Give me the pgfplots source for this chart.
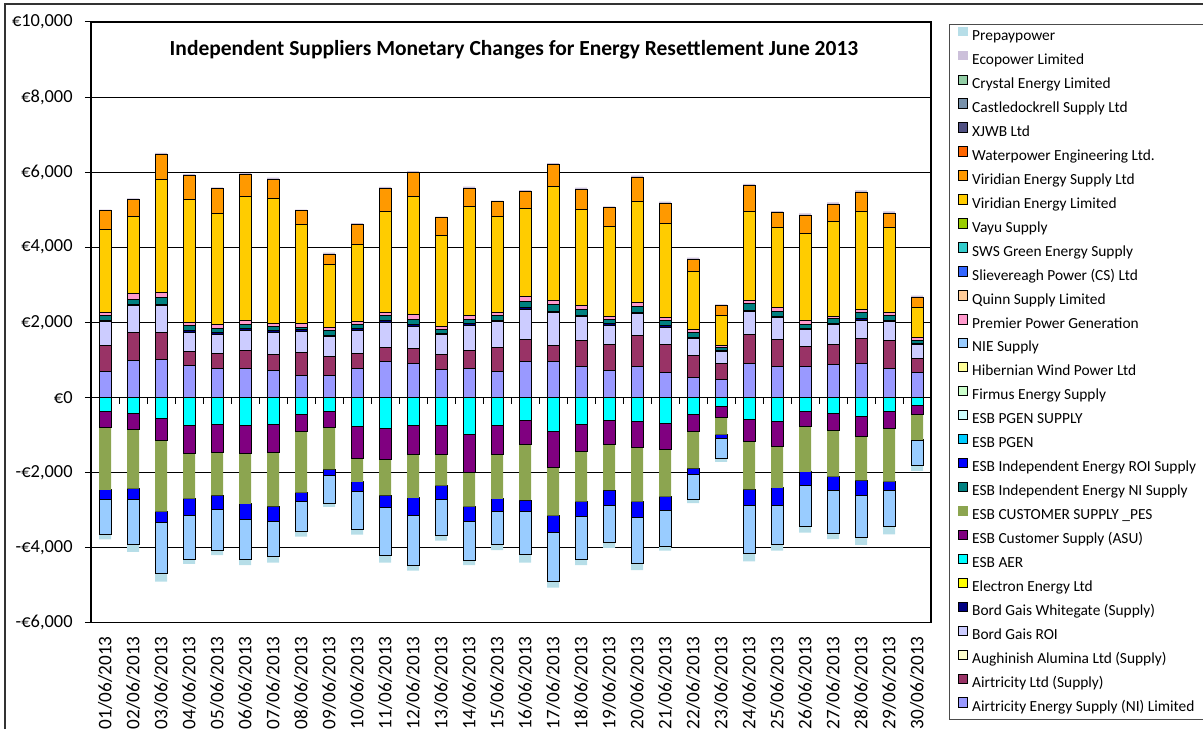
\documentclass[border=0pt]{standalone}
\usepackage{pgfplots}
\pgfplotsset{compat=1.18}
\usepackage{pgfplotstable}
\usepackage{fontspec}
\setmainfont{Carlito}

% series colours (Excel palette)
\definecolor{cAirNI}{HTML}{9999FF}
\definecolor{cAirLtd}{HTML}{993366}
\definecolor{cAugh}{HTML}{FFFFCC}
\definecolor{cBGROI}{HTML}{CCCCFF}
\definecolor{cBGW}{HTML}{000080}
\definecolor{cElectron}{HTML}{FFFF00}
\definecolor{cAER}{HTML}{00FFFF}
\definecolor{cASU}{HTML}{800080}
\definecolor{cPES}{HTML}{8CA550}
\definecolor{cIndNI}{HTML}{008080}
\definecolor{cIndROI}{HTML}{0000FF}
\definecolor{cPGEN}{HTML}{00CCFF}
\definecolor{cPGENS}{HTML}{CCFFFF}
\definecolor{cFirmus}{HTML}{CCFFCC}
\definecolor{cHib}{HTML}{FFFF99}
\definecolor{cNIE}{HTML}{99CCFF}
\definecolor{cPremier}{HTML}{FF99CC}
\definecolor{cQuinn}{HTML}{FFCC99}
\definecolor{cSliev}{HTML}{3366FF}
\definecolor{cSWS}{HTML}{33CCCC}
\definecolor{cVayu}{HTML}{99CC00}
\definecolor{cVirL}{HTML}{FFCC00}
\definecolor{cVirS}{HTML}{FF9900}
\definecolor{cWater}{HTML}{FF6600}
\definecolor{cXJWB}{HTML}{505082}
\definecolor{cCastle}{HTML}{7891AA}
\definecolor{cCrystal}{HTML}{92CDA5}
\definecolor{cEco}{HTML}{CCC0DA}
\definecolor{cPrepay}{HTML}{B7DEE8}

% positive contributions (EUR)
\pgfplotstableread{
x airni airltd bgroi bgw esbni premier virl virs eco
0 675 701 648 35 125 89 2210 488 27
1 976 763 710 35 134 142 2059 444 36
2 1003 737 710 35 169 142 3018 666 36
3 843 382 515 35 134 89 3284 630 36
4 772 408 506 35 116 115 2956 648 36
5 772 479 541 35 125 89 3311 586 36
6 710 435 595 35 107 98 3329 506 36
7 586 621 559 35 72 107 2636 355 27
8 586 497 541 35 134 71 1669 284 36
9 772 399 621 35 125 71 2059 533 27
10 941 399 666 35 151 80 2681 621 36
11 905 399 595 35 151 115 3151 639 36
12 746 391 524 35 107 71 2450 462 27
13 772 470 684 35 125 89 2912 488 36
14 701 639 684 35 125 89 2539 399 27
15 941 595 817 35 160 151 2344 444 36
16 941 435 888 35 187 98 3027 595 36
17 808 701 648 35 160 98 2565 533 36
18 710 692 524 35 125 80 2379 506 36
19 808 826 595 35 160 115 2672 657 36
20 648 755 470 35 151 80 2503 533 36
21 515 586 462 35 116 89 1562 320 36
22 488 426 320 20 78 53 808 249 36
23 914 755 621 35 178 71 2370 692 53
24 808 728 595 35 125 89 2139 408 36
25 808 559 435 35 116 89 2335 470 53
26 879 524 524 35 125 71 2521 470 44
27 914 648 497 35 160 80 2610 524 44
28 781 728 515 35 125 80 2255 391 44
29 648 391 364 35 89 71 799 275 36
}\postab

% negative contributions (EUR)
\pgfplotstableread{
x aer asu pes roi nie prepay
0 -391 -426 -1651 -249 -932 -133
1 -426 -444 -1562 -284 -1207 -195
2 -568 -595 -1882 -293 -1349 -222
3 -763 -737 -1198 -444 -1172 -124
4 -728 -746 -1136 -373 -1092 -133
5 -763 -746 -1332 -408 -1074 -151
6 -728 -746 -1429 -408 -932 -160
7 -453 -470 -1616 -240 -808 -124
8 -391 -426 -1101 -160 -746 -98
9 -790 -834 -630 -266 -994 -142
10 -826 -834 -950 -337 -1278 -178
11 -763 -763 -1154 -462 -1332 -142
12 -763 -763 -826 -364 -959 -142
13 -985 -1021 -905 -399 -1039 -124
14 -763 -763 -1181 -337 -888 -142
15 -630 -621 -1491 -302 -1154 -204
16 -923 -959 -1269 -453 -1305 -160
17 -719 -728 -1332 -399 -1154 -142
18 -630 -621 -1225 -399 -994 -142
19 -657 -692 -1429 -426 -1216 -186
20 -692 -710 -1243 -364 -968 -107
21 -462 -462 -968 -160 -666 -98
22 -257 -293 -444 -98 -542 -89
23 -586 -604 -1261 -426 -1287 -204
24 -657 -657 -1101 -462 -1056 -151
25 -391 -399 -1198 -364 -1083 -169
26 -426 -470 -1216 -373 -1136 -160
27 -524 -524 -1163 -399 -1127 -195
28 -391 -444 -1411 -240 -950 -213
29 -213 -257 -666 -27 -648 -151
}\negtab

\newcommand\sw[2]{\addlegendimage{legend image code/.code={\draw[line width=0.5pt,fill=#1,draw=#2] (0pt,0pt) rectangle (4.7pt,4.7pt);}}}

\pgfplotsset{
  base/.style={
    scale only axis, width=420pt, height=300.25pt,
    xmin=-0.5, xmax=29.5, ymin=-6000, ymax=10000,
    ybar stacked, bar width=6pt,
  },
}

\begin{document}
\begin{tikzpicture}
\useasboundingbox (-45.5pt,-53.25pt) rectangle (556pt,311.25pt);
\begin{axis}[base, at={(0,0)}, anchor=south west,
  axis line style={black, line width=0.6pt},
  ymajorgrids, grid style={black, line width=0.5pt},
  scaled y ticks=false,
  ytick={-6000,-4000,...,10000},
  yticklabels={{-€6,000},{-€4,000},{-€2,000},{€0},{€2,000},{€4,000},{€6,000},{€8,000},{€10,000}},
  ytick pos=left, tick align=outside, major tick length=3pt,
  tick style={black, line width=0.5pt},
  yticklabel style={inner sep=0pt, font=\fontsize{9.2}{10}\selectfont},
  yticklabel shift=6pt,
  xtick={0,...,29},
  xticklabels={01/06/2013,02/06/2013,03/06/2013,04/06/2013,05/06/2013,06/06/2013,07/06/2013,08/06/2013,09/06/2013,10/06/2013,11/06/2013,12/06/2013,13/06/2013,14/06/2013,15/06/2013,16/06/2013,17/06/2013,18/06/2013,19/06/2013,20/06/2013,21/06/2013,22/06/2013,23/06/2013,24/06/2013,25/06/2013,26/06/2013,27/06/2013,28/06/2013,29/06/2013,30/06/2013},
  xtick style={draw=none},
  xticklabel style={rotate=90, anchor=east, inner sep=0pt, font=\fontsize{9.6}{10}\selectfont},
  xticklabel shift=3.75pt,
  title={Independent Suppliers Monetary Changes for Energy Resettlement June 2013},
  title style={at={(0.5,1)}, anchor=center, yshift=-20pt, xshift=1.5pt, font=\bfseries\fontsize{10.75}{12}\selectfont},
  legend cell align=left,
  legend style={at={(1.02179,0.99667)}, anchor=north west, draw=black!70, line width=0.5pt,
    inner xsep=4pt, inner ysep=0pt, row sep=0pt,
    font=\fontsize{7.7}{9}\selectfont,
    nodes={inner sep=0pt, text height=8pt, text depth=3.98pt},
    /tikz/every odd column/.append style={column sep=2pt}},
]
\addplot[forget plot, fill=cAirNI, draw=black, line width=0.5pt] table[x=x, y=airni] {\postab};
\addplot[forget plot, fill=cAirLtd, draw=black, line width=0.5pt] table[x=x, y=airltd] {\postab};
\addplot[forget plot, fill=cBGROI, draw=black, line width=0.5pt] table[x=x, y=bgroi] {\postab};
\addplot[forget plot, fill=cBGW, draw=black, line width=0.5pt] table[x=x, y=bgw] {\postab};
\addplot[forget plot, fill=cIndNI, draw=black, line width=0.5pt] table[x=x, y=esbni] {\postab};
\addplot[forget plot, fill=cPremier, draw=black, line width=0.5pt] table[x=x, y=premier] {\postab};
\addplot[forget plot, fill=cVirL, draw=black, line width=0.5pt] table[x=x, y=virl] {\postab};
\addplot[forget plot, fill=cVirS, draw=black, line width=0.5pt] table[x=x, y=virs] {\postab};
\addplot[forget plot, fill=cEco, draw=none] table[x=x, y=eco] {\postab};

% small category ticks on the zero line
\pgfplotsinvokeforeach{-0.5,0.5,...,29.5}{\draw[black, line width=0.5pt] (axis cs:#1,0) -- ++(0pt,-3.3pt);}

\sw{cPrepay}{none}\addlegendentry{Prepaypower}
\sw{cEco}{none}\addlegendentry{Ecopower Limited}
\sw{cCrystal}{black}\addlegendentry{Crystal Energy Limited}
\sw{cCastle}{black}\addlegendentry{Castledockrell Supply Ltd}
\sw{cXJWB}{black}\addlegendentry{XJWB Ltd}
\sw{cWater}{black}\addlegendentry{Waterpower Engineering Ltd.}
\sw{cVirS}{black}\addlegendentry{Viridian Energy Supply Ltd}
\sw{cVirL}{black}\addlegendentry{Viridian Energy Limited}
\sw{cVayu}{black}\addlegendentry{Vayu Supply}
\sw{cSWS}{black}\addlegendentry{SWS Green Energy Supply}
\sw{cSliev}{black}\addlegendentry{Slievereagh Power (CS) Ltd}
\sw{cQuinn}{black}\addlegendentry{Quinn Supply Limited}
\sw{cPremier}{black}\addlegendentry{Premier Power Generation}
\sw{cNIE}{black}\addlegendentry{NIE Supply}
\sw{cHib}{black}\addlegendentry{Hibernian Wind Power Ltd}
\sw{cFirmus}{black}\addlegendentry{Firmus Energy Supply}
\sw{cPGENS}{black}\addlegendentry{ESB PGEN SUPPLY}
\sw{cPGEN}{black}\addlegendentry{ESB PGEN}
\sw{cIndROI}{black}\addlegendentry{ESB Independent Energy ROI Supply}
\sw{cIndNI}{black}\addlegendentry{ESB Independent Energy NI Supply}
\sw{cPES}{none}\addlegendentry{ESB CUSTOMER SUPPLY \_PES}
\sw{cASU}{black}\addlegendentry{ESB Customer Supply (ASU)}
\sw{cAER}{black}\addlegendentry{ESB AER}
\sw{cElectron}{black}\addlegendentry{Electron Energy Ltd}
\sw{cBGW}{black}\addlegendentry{Bord Gais Whitegate (Supply)}
\sw{cBGROI}{black}\addlegendentry{Bord Gais ROI}
\sw{cAugh}{black}\addlegendentry{Aughinish Alumina Ltd (Supply)}
\sw{cAirLtd}{black}\addlegendentry{Airtricity Ltd (Supply)}
\sw{cAirNI}{black}\addlegendentry{Airtricity Energy Supply (NI) Limited}
\end{axis}

% negative side stacked separately from zero
\begin{axis}[base, at={(0,0)}, anchor=south west, hide axis]
\addplot[fill=cAER, draw=black, line width=0.5pt] table[x=x, y=aer] {\negtab};
\addplot[fill=cASU, draw=black, line width=0.5pt] table[x=x, y=asu] {\negtab};
\addplot[fill=cPES, draw=none] table[x=x, y=pes] {\negtab};
\addplot[fill=cIndROI, draw=black, line width=0.5pt] table[x=x, y=roi] {\negtab};
\addplot[fill=cNIE, draw=black, line width=0.5pt] table[x=x, y=nie] {\negtab};
\addplot[fill=cPrepay, draw=none] table[x=x, y=prepay] {\negtab};
\end{axis}

% outer chart border (top and left visible)
\draw[black!80, line width=0.75pt] (-43pt,-53.25pt) -- (-43pt,309.25pt) -- (556pt,309.25pt);
\end{tikzpicture}
\end{document}
